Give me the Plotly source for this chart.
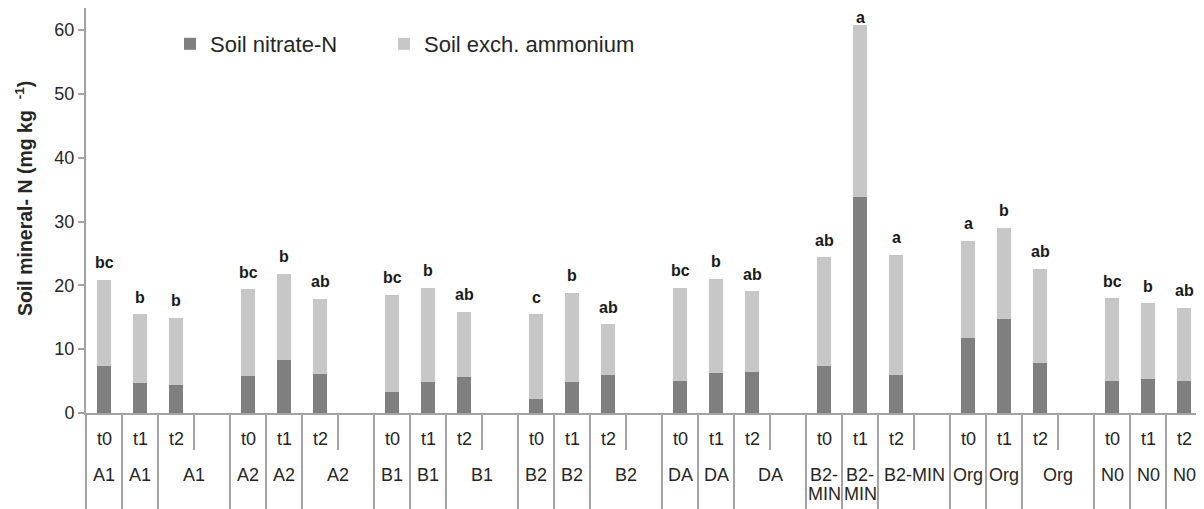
import plotly.graph_objects as go

# ---------------- data ----------------
groups = ["A1", "A2", "B1", "B2", "DA", "B2-MIN", "Org", "N0"]
times = ["t0", "t1", "t2"]

nitrate = [7.30, 4.75, 4.33,
           5.74, 8.30, 6.11,
           3.34, 4.90, 5.58,
           2.14, 4.90, 5.90,
           5.06, 6.32, 6.47,
           7.30, 33.80, 5.95,
           11.70, 14.66, 7.80,
           5.06, 5.30, 5.06]

ammonium = [13.55, 10.70, 10.57,
            13.66, 13.50, 11.76,
            15.16, 14.74, 10.30,
            13.36, 13.96, 8.00,
            14.58, 14.73, 12.59,
            17.10, 27.00, 18.85,
            15.30, 14.34, 14.80,
            12.94, 11.90, 11.40]

letters = ["bc", "b", "b",
           "bc", "b", "ab",
           "bc", "b", "ab",
           "c", "b", "ab",
           "bc", "b", "ab",
           "ab", "a", "a",
           "a", "b", "ab",
           "bc", "b", "ab"]

y_ticks = [0, 10, 20, 30, 40, 50, 60]
y_title = "Soil mineral- N (mg kg  <sup>-1</sup>)"

# ---------------- layout constants ----------------
# page has an 8px body margin, so the figure is sized to fit the window
OFF = 8
W, H = 1204 - OFF, 509 - OFF
PLOT_TOP_PAGE, PLOT_BOTTOM_PAGE = 8, 413
PLOT_LEFT_PAGE, PLOT_RIGHT_PAGE = 86, 1202
M_L = PLOT_LEFT_PAGE - OFF
M_T = PLOT_TOP_PAGE - OFF
M_R = (W + OFF) - PLOT_RIGHT_PAGE
M_B = (H + OFF) - PLOT_BOTTOM_PAGE
PLOT_H = PLOT_BOTTOM_PAGE - PLOT_TOP_PAGE
PLOT_W = PLOT_RIGHT_PAGE - PLOT_LEFT_PAGE
PX_PER_UNIT = 6.383
YMAX = PLOT_H / PX_PER_UNIT

FONT = "Liberation Sans, Arial, Helvetica, sans-serif"
TXT = "#262626"
AX = "#a3a3a3"
C_NIT = "#7f7f7f"
C_AMM = "#c6c7c6"

n_groups = len(groups)
n_slots = 4 * n_groups - 1
xmin, xmax = -0.5, n_slots - 0.5

# slot positions: 3 bars + one empty slot per group
xpos, grp_idx, t_idx = [], [], []
for gi, g in enumerate(groups):
    for ti, t in enumerate(times):
        xpos.append(4 * gi + ti)
        grp_idx.append(gi)
        t_idx.append(ti)

totals = [a + b for a, b in zip(nitrate, ammonium)]


def py(Y):
    """page pixel row -> paper y"""
    return (PLOT_BOTTOM_PAGE - Y) / PLOT_H


def pxp(X):
    """page pixel column -> paper x"""
    return (X - PLOT_LEFT_PAGE) / PLOT_W


def px(xv):
    """data x -> paper x"""
    return (xv - xmin) / (xmax - xmin)


fig = go.Figure()
fig.add_trace(go.Bar(x=xpos, y=nitrate, name="Soil nitrate-N", legend="legend",
                     marker=dict(color=C_NIT, line=dict(width=0)), width=0.4))
fig.add_trace(go.Bar(x=xpos, y=ammonium, name="Soil exch. ammonium", legend="legend2",
                     marker=dict(color=C_AMM, line=dict(width=0)), width=0.4))

annotations = []
# significance letters (kept inside the figure when a bar nearly touches the top)
for x, tot, lt in zip(xpos, totals, letters):
    top_px = (YMAX - tot) * PX_PER_UNIT  # distance of bar top below figure top
    shift = min(17, top_px - 10)
    annotations.append(dict(x=x, y=tot, xref="x", yref="y", text=lt,
                            showarrow=False, xanchor="center", yanchor="middle", yshift=shift,
                            font=dict(family=FONT, size=16, color="#1a1a1a", weight="bold")))

# category labels
lab_font = dict(family=FONT, size=18, color=TXT)
for x, gi, ti in zip(xpos, grp_idx, t_idx):
    annotations.append(dict(x=px(x), y=py(439), xref="paper", yref="paper",
                            text=times[ti], showarrow=False, xanchor="center", yanchor="middle",
                            font=lab_font))
    g = groups[gi]
    last = gi == n_groups - 1
    if ti == 2 and not last:
        annotations.append(dict(x=px(x + 0.5), y=py(475), xref="paper", yref="paper",
                                text=g, showarrow=False, xanchor="center", yanchor="middle",
                                font=lab_font))
    else:
        if "-" in g:
            a, b = g.split("-", 1)
            parts = [a + "-", b]
        else:
            parts = [g]
        for k, part in enumerate(parts):
            annotations.append(dict(x=px(x), y=py(475 + 19 * k), xref="paper", yref="paper",
                                    text=part, showarrow=False, xanchor="center",
                                    yanchor="middle", font=lab_font))

# y-axis title
annotations.append(dict(x=pxp(24), y=py(199), xref="paper", yref="paper",
                        text=y_title, textangle=-90, showarrow=False,
                        xanchor="center", yanchor="middle",
                        font=dict(family=FONT, size=19.5, color=TXT, weight="bold")))

shapes = []
# category dividers below the axis
for k in range(n_slots + 1):
    b = k - 0.5
    short = any(abs(b - (4 * gi + 2.5)) < 1e-9 for gi in range(n_groups - 1))
    y_end = py(450) if short else py(512)
    shapes.append(dict(type="line", xref="paper", yref="paper",
                       x0=px(b), x1=px(b), y0=0, y1=y_end,
                       line=dict(color=AX, width=2)))

leg_common = dict(orientation="h", xanchor="left", yanchor="top",
                  font=dict(family=FONT, size=22, color=TXT),
                  bgcolor="rgba(0,0,0,0)", borderwidth=0)

fig.update_layout(
    width=W, height=H,
    margin=dict(l=M_L, r=M_R, t=M_T, b=M_B, pad=0, autoexpand=False),
    paper_bgcolor="white", plot_bgcolor="white",
    barmode="stack",
    font=dict(family=FONT, color=TXT),
    showlegend=True,
    legend=dict(x=pxp(170), y=py(23), **leg_common),
    legend2=dict(x=pxp(384), y=py(23), **leg_common),
    xaxis=dict(range=[xmin, xmax], showticklabels=False, ticks="",
               showline=True, linecolor=AX, linewidth=2, showgrid=False,
               zeroline=False, fixedrange=True),
    yaxis=dict(range=[0, YMAX], tickvals=y_ticks, ticks="outside",
               ticklen=6, tickwidth=2, tickcolor=AX,
               showline=True, linecolor=AX, linewidth=2, showgrid=False,
               zeroline=False, tickfont=dict(family=FONT, size=18, color=TXT),
               automargin=False),
    annotations=annotations,
    shapes=shapes,
)

fig.write_html("out.html")
